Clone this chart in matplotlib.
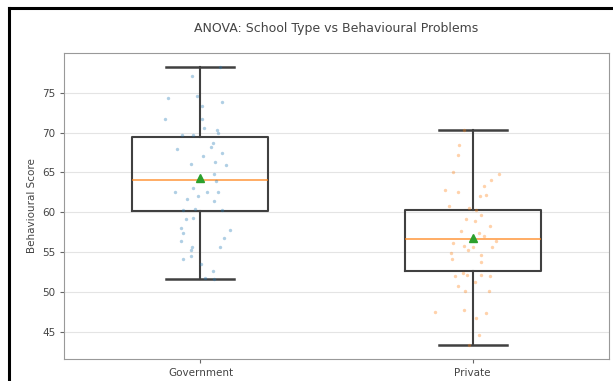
import numpy as np
import matplotlib
matplotlib.use("Agg")
import matplotlib.pyplot as plt
from matplotlib.lines import Line2D

groups = ["Government", "Private"]

# behavioural scores per school type, with the horizontal jitter of each dot
gov_scores = [78.25, 77.1, 74.4, 74.6, 73.3, 73.8, 71.7, 71.75, 69.7, 69.7,
              70.3, 69.9, 70.6, 68.7, 68.25, 68.0, 67.1, 67.4, 66.1, 66.3,
              65.9, 64.8, 63.9, 62.5, 63.0, 61.7, 62.0, 62.5, 62.5, 61.4,
              60.3, 60.25, 60.4, 59.1, 59.3, 58.0, 57.4, 57.8, 56.8, 56.4,
              55.7, 55.3, 55.6, 54.1, 54.5, 53.5, 52.6, 51.6, 51.7]
gov_jitter = [0.073, -0.032, -0.12, -0.013, 0.004, 0.078, -0.13, 0.006, -0.066, -0.027,
              0.059, 0.066, 0.013, 0.045, 0.037, -0.085, 0.009, 0.08, -0.034, 0.052,
              0.095, 0.049, 0.056, -0.092, -0.027, -0.049, -0.009, 0.023, 0.063, 0.049,
              0.078, -0.063, -0.02, -0.052, -0.027, -0.07, -0.063, 0.109, 0.088, -0.07,
              -0.03, -0.034, 0.073, -0.063, -0.034, 0.001, 0.045, 0.049, 0.016]

priv_scores = [70.3, 68.5, 67.2, 65.0, 64.8, 64.1, 63.25, 62.8, 62.5, 62.2,
               62.0, 60.75, 60.5, 60.25, 59.6, 59.1, 58.9, 58.25, 57.6, 57.4,
               57.0, 56.2, 56.4, 55.8, 55.7, 55.7, 54.9, 55.25, 54.7, 54.1,
               53.7, 52.4, 52.0, 52.1, 52.1, 52.0, 50.75, 50.1, 50.1, 51.2,
               47.5, 47.7, 47.4, 46.7, 44.6, 43.3]
priv_jitter = [-0.03, -0.05, -0.055, -0.072, 0.098, 0.069, 0.043, -0.103, -0.055, 0.05,
               0.026, -0.086, -0.014, 0.014, 0.029, -0.026, 0.007, 0.065, -0.043, 0.022,
               0.043, -0.072, 0.086, -0.032, 0.003, 0.072, -0.079, -0.017, 0.029, -0.075,
               0.032, -0.036, -0.065, -0.022, 0.029, 0.065, -0.055, -0.029, 0.06, 0.007,
               -0.137, -0.032, 0.049, 0.014, 0.022, -0.014]

# box summary for each group
q1 = [60.15, 52.6]
medians = [64.05, 56.65]
q3 = [69.5, 60.3]
means = [64.3, 56.8]
whis_lo = [51.6, 43.3]
whis_hi = [78.25, 70.3]

fig = plt.figure(figsize=(6.13, 3.81), dpi=100)
ax = fig.add_axes([0.105, 0.058, 0.888, 0.803])

stats = []
for i, name in enumerate(groups):
    stats.append(dict(label=name, q1=q1[i], med=medians[i], q3=q3[i],
                      mean=means[i], whislo=whis_lo[i], whishi=whis_hi[i],
                      fliers=[]))

line_col = "#404040"
ax.bxp(stats, positions=[1, 2], widths=0.5, showmeans=True,
       boxprops=dict(color=line_col, linewidth=1.5),
       whiskerprops=dict(color=line_col, linewidth=1.5),
       capprops=dict(color=line_col, linewidth=1.8),
       medianprops=dict(color="#ff7f0e", linewidth=1.2, alpha=0.75),
       meanprops=dict(marker="^", markerfacecolor="#2ca02c",
                      markeredgecolor="#2ca02c", markersize=5.5))

for i, (vals, jit) in enumerate([(gov_scores, gov_jitter), (priv_scores, priv_jitter)]):
    xs = (i + 1) + np.array(jit)
    ax.scatter(xs, vals, s=6, color=f"C{i}", alpha=0.35, linewidths=0, zorder=3)

ax.set_xlim(0.5, 2.5)
ax.set_ylim(41.6, 80.0)
ax.set_yticks([45, 50, 55, 60, 65, 70, 75])
ax.yaxis.grid(True, color="#e4e4e4", linewidth=0.8)
ax.set_axisbelow(True)
ax.tick_params(labelsize=7.5, length=3, color="#666666", labelcolor="#444444")
for s in ax.spines.values():
    s.set_color("#999999")
ax.set_ylabel("Behavioural Score", fontsize=7.5, color="#444444")
ax.set_title("ANOVA: School Type vs Behavioural Problems", fontsize=9,
             color="#444444", pad=15)

# dark frame edges along the top and left of the canvas
fig.add_artist(Line2D([0.015, 0.015], [0.0, 0.978], transform=fig.transFigure,
                      color="black", linewidth=2.2))
fig.add_artist(Line2D([0.015, 1.0], [0.978, 0.978], transform=fig.transFigure,
                      color="black", linewidth=2.2))

fig.savefig("out.png", dpi=100)
